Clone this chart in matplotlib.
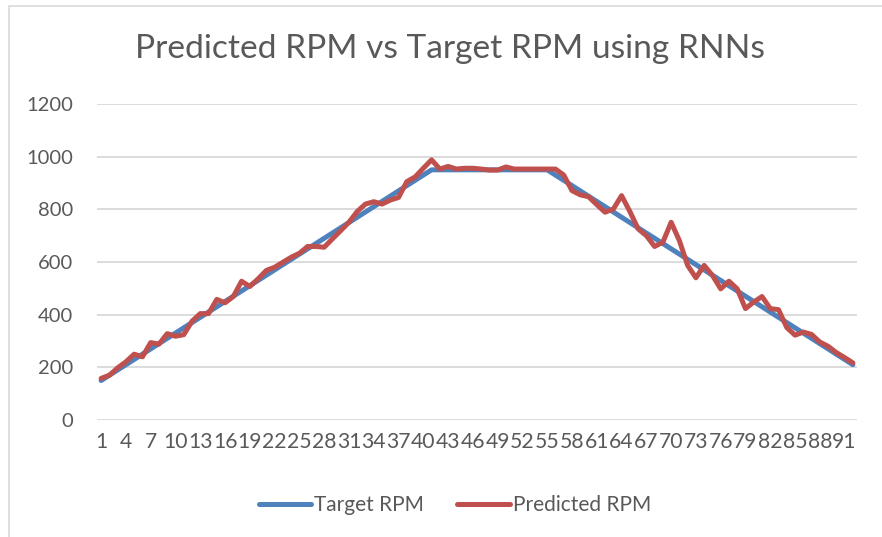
import matplotlib
matplotlib.use("Agg")
import matplotlib.pyplot as plt
from matplotlib.patches import Rectangle

# ---- data ----
categories = list(range(1, 93))
target_rpm = [150, 170, 190, 210, 230, 250, 270, 290, 310, 330,
              350, 370, 390, 410, 430, 450, 470, 490, 510, 530,
              550, 570, 590, 610, 630, 650, 670, 690, 710, 730,
              750, 770, 790, 810, 830, 850, 870, 890, 910, 930,
              950, 950, 950, 950, 950, 950, 950, 950, 950, 950,
              950, 950, 950, 950, 950, 930, 910, 890, 870, 850,
              830, 810, 790, 770, 750, 730, 710, 690, 670, 650,
              630, 610, 590, 570, 550, 530, 510, 490, 470, 450,
              430, 410, 390, 370, 350, 330, 310, 290, 270, 250,
              230, 210]
predicted_rpm = [158, 170, 198, 221, 250, 240, 294, 288, 328, 318,
                 324, 375, 404, 404, 458, 445, 469, 527, 507, 536,
                 568, 580, 599, 618, 633, 659, 659, 656, 688, 719,
                 751, 792, 820, 829, 820, 835, 845, 905, 923, 956,
                 988, 953, 963, 953, 956, 956, 953, 949, 949, 961,
                 953, 953, 953, 953, 953, 953, 930, 871, 855, 848,
                 818, 789, 801, 852, 792, 726, 700, 659, 675, 751,
                 681, 587, 540, 587, 549, 498, 527, 498, 423, 448,
                 469, 423, 419, 351, 322, 334, 325, 296, 280, 256,
                 237, 217]
x_tick_labels = [str(c) for c in categories[::3]]
y_ticks = [0, 200, 400, 600, 800, 1000, 1200]
title = "Predicted RPM vs Target RPM using RNNs"

FONT = ["Lato", "DejaVu Sans"]
GRAY = "#595959"
BLUE = "#4F81BD"
RED = "#C0504D"

W, H = 882, 537
fig = plt.figure(figsize=(W / 100, H / 100), dpi=100)

# chart border
fig.patches.append(Rectangle((8.5 / W, -0.05), 1.2, 1 - 5.5 / H + 0.05,
                             transform=fig.transFigure, fill=False,
                             edgecolor="#D9D9D9", linewidth=1.2))

ax = fig.add_axes([97 / W, 1 - 420 / H, (857 - 97) / W, (420 - 104) / H])
ax.plot(categories, target_rpm, color=BLUE, lw=3.6, solid_capstyle="round",
        solid_joinstyle="round", label="Target RPM", zorder=3)
ax.plot(categories, predicted_rpm, color=RED, lw=3.6, solid_capstyle="round",
        solid_joinstyle="round", label="Predicted RPM", zorder=4)

ax.set_xlim(0.5, 92.5)
ax.set_ylim(0, 1200)
ax.set_yticks(y_ticks)
ax.set_yticklabels([str(v) for v in y_ticks], fontfamily=FONT, fontsize=14.5, color=GRAY)
ax.set_xticks(categories[::3])
ax.set_xticklabels(x_tick_labels, fontfamily=FONT, fontsize=15.2, color=GRAY)
ax.tick_params(axis="both", length=0)
ax.tick_params(axis="y", pad=17)
ax.tick_params(axis="x", pad=9)
ax.grid(axis="y", color="#D9D9D9", lw=1.3)
ax.set_axisbelow(True)
for s in ax.spines.values():
    s.set_visible(False)

fig.text(450 / W, 1 - 49 / H, title, ha="center", va="center",
         fontfamily=FONT, fontsize=24.1, color=GRAY)

leg = fig.legend(loc="center", bbox_to_anchor=(455 / W, 1 - 505 / H), ncol=2,
                 frameon=False, prop={"family": FONT, "size": 15},
                 handlelength=2.5, handletextpad=0.15, columnspacing=1.6)
for t in leg.get_texts():
    t.set_color(GRAY)
for l in leg.get_lines():
    l.set_linewidth(3.6)

fig.savefig("out.png", dpi=100)
